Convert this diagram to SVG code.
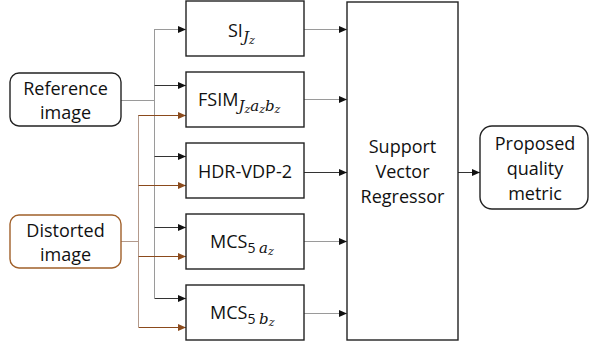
<svg xmlns="http://www.w3.org/2000/svg" width="589" height="345" viewBox="0 0 589 345">
<style>
.box{fill:#fff;stroke:#222;stroke-width:1.4}
.rbox{fill:#fff;stroke:#222;stroke-width:1.4}
.dbox{fill:#fff;stroke:#a0602a;stroke-width:1.4}
.t{font-family:"Open Sans","Noto Sans",sans-serif;font-size:18px;fill:#111}
.c{text-anchor:middle}
.m{font-family:"DejaVu Serif","Liberation Serif",serif;font-style:italic}
.s1{font-size:15px}
.s2{font-size:11px}
.g{stroke:#9a9a9a;stroke-width:1;fill:none}
.k{stroke:#333;stroke-width:1;fill:none}
.b{stroke:#8b4a1c;stroke-width:1;fill:none}
.bt{stroke:#b39a8c;stroke-width:1;fill:none}
</style>
<defs>
<marker id="ak" markerUnits="userSpaceOnUse" markerWidth="9" markerHeight="8" refX="8" refY="3.5" orient="auto"><path d="M0,0 L8,3.5 L0,7 z" fill="#111"/></marker>
<marker id="ab" markerUnits="userSpaceOnUse" markerWidth="9" markerHeight="8" refX="8" refY="3.5" orient="auto"><path d="M0,0 L8,3.5 L0,7 z" fill="#8b4a1c"/></marker>
</defs>
<g id="connectors">
<path class="g" d="M121,100.5 H154.5 M154.5,29 V298"/>
<path class="g" d="M154.5,29.5 H186" marker-end="url(#ak)"/>
<path class="k" d="M154.5,85.5 H186" marker-end="url(#ak)"/>
<path class="k" d="M154.5,156.5 H186" marker-end="url(#ak)"/>
<path class="k" d="M154.5,227.5 H186" marker-end="url(#ak)"/>
<path class="k" d="M154.5,298.5 H186" marker-end="url(#ak)"/>
<path class="bt" d="M121,241.5 H138.5 M138.5,115 V327"/>
<path class="b" d="M138.5,115.5 H186" marker-end="url(#ab)"/>
<path class="b" d="M138.5,185.5 H186" marker-end="url(#ab)"/>
<path class="b" d="M138.5,256.5 H186" marker-end="url(#ab)"/>
<path class="b" d="M138.5,327.5 H186" marker-end="url(#ab)"/>
<path class="g" d="M304,29.5 H347" marker-end="url(#ak)"/>
<path class="g" d="M304,99.5 H347" marker-end="url(#ak)"/>
<path class="k" d="M304,172.5 H347" marker-end="url(#ak)"/>
<path class="g" d="M304,241.5 H347" marker-end="url(#ak)"/>
<path class="g" d="M304,313.5 H347" marker-end="url(#ak)"/>
<path class="k" d="M458,172.5 H480" marker-end="url(#ak)"/>
</g>
<g id="reference">
<rect class="rbox" x="10" y="73" width="111" height="53" rx="9"/>
<text class="t c" x="65.5" y="94.5">Reference</text>
<text class="t c" x="65.5" y="118.5">image</text>
</g>
<g id="distorted">
<rect class="dbox" x="10" y="215" width="111" height="53" rx="9"/>
<text class="t c" x="65.5" y="236.5">Distorted</text>
<text class="t c" x="65.5" y="260.5">image</text>
</g>
<g id="si">
<rect class="box" x="186" y="1" width="118" height="55"/>
<text class="t" x="228" y="37">SI<tspan class="m s1" dy="5">J</tspan><tspan class="m s2" dy="2">z</tspan></text>
</g>
<g id="fsim">
<rect class="box" x="186" y="72" width="118" height="55"/>
<text class="t" x="198" y="106">FSIM<tspan class="m s1" dy="5">J</tspan><tspan class="m s2" dy="2">z</tspan><tspan class="m s1" dy="-2">a</tspan><tspan class="m s2" dy="2">z</tspan><tspan class="m s1" dy="-2">b</tspan><tspan class="m s2" dy="2">z</tspan></text>
</g>
<g id="hdrvdp">
<rect class="box" x="186" y="143" width="118" height="55"/>
<text class="t c" x="245" y="177.5">HDR-VDP-2</text>
</g>
<g id="mcsa">
<rect class="box" x="186" y="214" width="118" height="55"/>
<text class="t" x="210" y="248">MCS<tspan font-size="14" dy="5">5 </tspan><tspan class="m s1">a</tspan><tspan class="m s2" dy="2">z</tspan></text>
</g>
<g id="mcsb">
<rect class="box" x="186" y="285" width="118" height="55"/>
<text class="t" x="210" y="319">MCS<tspan font-size="14" dy="5">5 </tspan><tspan class="m s1">b</tspan><tspan class="m s2" dy="2">z</tspan></text>
</g>
<g id="svr">
<rect class="box" x="347" y="2" width="111" height="338"/>
<text class="t c" x="402.5" y="153">Support</text>
<text class="t c" x="402.5" y="178">Vector</text>
<text class="t c" x="402.5" y="203">Regressor</text>
</g>
<g id="proposed">
<rect class="rbox" x="480" y="126" width="108" height="83" rx="12"/>
<text class="t c" x="535" y="150">Proposed</text>
<text class="t c" x="535" y="175">quality</text>
<text class="t c" x="535" y="200">metric</text>
</g>
</svg>
